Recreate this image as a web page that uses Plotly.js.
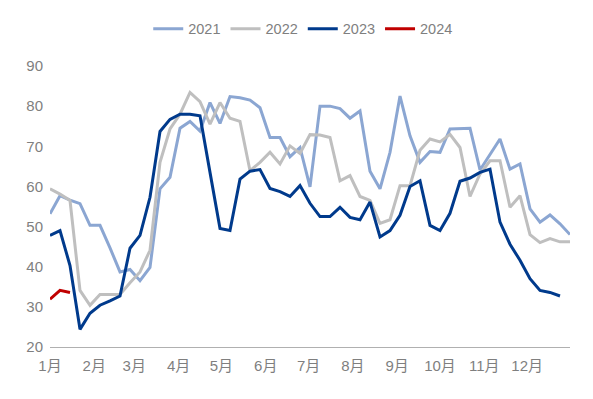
<!DOCTYPE html>
<html>
<head>
<meta charset="utf-8">
<script src="https://cdn.plot.ly/plotly-3.0.1.min.js"></script>
<style>
html,body{margin:0;padding:0;background:#fff;}
#chart{width:593px;height:399px;}
</style>
</head>
<body>
<div id="chart"></div>
<script>
const weeks = [
"2021-01-01","2021-01-08","2021-01-15","2021-01-22","2021-01-29",
"2021-02-05","2021-02-12","2021-02-19","2021-02-26",
"2021-03-05","2021-03-12","2021-03-19","2021-03-26",
"2021-04-02","2021-04-09","2021-04-16","2021-04-23","2021-04-30",
"2021-05-07","2021-05-14","2021-05-21","2021-05-28",
"2021-06-04","2021-06-11","2021-06-18","2021-06-25",
"2021-07-02","2021-07-09","2021-07-16","2021-07-23","2021-07-30",
"2021-08-06","2021-08-13","2021-08-20","2021-08-27",
"2021-09-03","2021-09-10","2021-09-17","2021-09-24",
"2021-10-01","2021-10-08","2021-10-15","2021-10-22","2021-10-29",
"2021-11-05","2021-11-12","2021-11-19","2021-11-26",
"2021-12-03","2021-12-10","2021-12-17","2021-12-24","2021-12-31"];

const monthTicks = ["2021-01-01","2021-02-01","2021-03-01","2021-04-01","2021-05-01","2021-06-01",
"2021-07-01","2021-08-01","2021-09-01","2021-10-01","2021-11-01","2021-12-01"];
const monthLabels = ["1月","2月","3月","4月","5月","6月","7月","8月","9月","10月","11月","12月"];

const y2021 = [53.2,57.7,56.6,55.7,50.3,50.3,44.7,38.7,39.3,36.5,39.8,59.4,62.3,74.5,76.2,73.8,80.9,75.7,82.4,82.1,
81.5,79.6,72.2,72.2,67.4,69.7,59.9,80.0,80.0,79.4,77.0,78.8,63.8,59.4,68.5,82.5,72.6,66.0,68.7,68.5,
74.3,74.4,74.5,64.1,68.1,71.8,64.3,65.6,54.4,51.1,52.9,50.7,48.0];
const y2022 = [59.4,58.1,56.5,34.1,30.4,33.1,33.1,33.1,36.0,38.7,44.1,66.0,74.3,78.0,83.4,81.1,75.5,80.9,77.0,76.2,
63.9,66.0,68.5,65.6,70.1,68.2,72.9,72.8,72.2,61.4,62.7,57.5,56.5,50.8,51.7,60.2,60.2,69.0,71.8,71.1,
73.0,69.7,57.5,63.1,66.4,66.4,54.8,57.7,48.0,46.0,47.0,46.2,46.2];
const y2023 = [47.8,49.0,40.3,24.4,28.4,30.4,31.5,32.7,44.6,47.8,57.3,73.7,76.7,78.0,78.0,77.6,63.5,49.5,49.0,61.8,
63.8,64.2,59.5,58.7,57.5,60.2,55.8,52.5,52.5,54.8,52.3,51.7,56.1,47.4,49.0,52.8,60.0,61.4,50.3,49.0,
53.3,61.3,62.1,63.5,64.3,51.1,45.6,41.6,37.0,34.1,33.6,32.7,null];
const y2024 = [31.9,34.1,33.6];

const seriesNames = ["2021","2022","2023","2024"];
const seriesColors = ["#8BA6D2","#BFBFBF","#003A8C","#C00000"];
const seriesValues = [y2021,y2022,y2023,y2024];

const traces = seriesValues.map((vals,k)=>({
  type:"scatter",mode:"lines",name:seriesNames[k],
  x:weeks.slice(0,vals.length),y:vals,
  line:{color:seriesColors[k],width:3},
  connectgaps:false,hoverinfo:"x+y+name"
}));

const fontFam = "Liberation Sans, Arial, Noto Sans CJK SC, sans-serif";
const layout = {
  width:593,height:399,
  margin:{l:50,r:23,t:66,b:52},
  paper_bgcolor:"#fff",plot_bgcolor:"#fff",
  font:{family:fontFam,color:"#7F7F7F",size:15},
  showlegend:true,
  legend:{orientation:"h",x:0.487,xanchor:"center",y:1.132,yanchor:"middle",
    font:{size:14.5,color:"#7F7F7F"},itemwidth:30,tracegroupgap:0},
  xaxis:{type:"date",range:["2021-01-01","2021-12-31"],
    tickmode:"array",tickvals:monthTicks,ticktext:monthLabels,
    showgrid:false,zeroline:false,showline:true,linecolor:"#B0B0B0",linewidth:1.3,
    ticks:"",tickfont:{size:15,color:"#7F7F7F"},ticklabelstandoff:5},
  yaxis:{range:[20,90],dtick:10,tick0:20,showgrid:false,zeroline:false,showline:false,
    ticks:"",tickfont:{size:15,color:"#7F7F7F"},ticklabelstandoff:6}
};
Plotly.newPlot("chart",traces,layout,{displayModeBar:false,staticPlot:true});
</script>
</body>
</html>
